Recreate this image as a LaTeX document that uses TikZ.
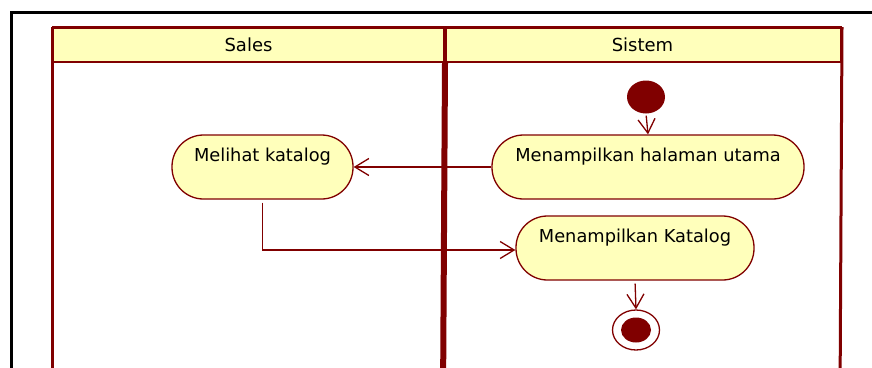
\documentclass[tikz,border=0pt]{standalone}
\usepackage{fontspec}
\setmainfont{DejaVu Sans}
\usetikzlibrary{arrows.meta,shapes.geometric}
\definecolor{umlred}{HTML}{800000}
\definecolor{umlfill}{HTML}{FFFFBB}
\tikzset{
  lanehead/.style={draw=umlred, line width=2pt, fill=umlfill, minimum height=34pt, inner sep=0pt, font=\fontsize{18}{21}\selectfont},
  action/.style={draw=umlred, line width=1.3pt, fill=umlfill, rounded corners=31.5pt, inner xsep=0pt, inner ysep=0pt, text height=26pt, text depth=38pt, font=\fontsize{17.8}{21}\selectfont},
  flow/.style={draw=umlred, line width=1.3pt, -{Straight Barb[length=14pt,width=17pt,line width=1.3pt]}},
}
\begin{document}
\begin{tikzpicture}[x=1pt,y=-1pt]
\useasboundingbox (0,0) rectangle (872,367);
\begin{scope}
\clip (0,0) rectangle (872,367);
% outer black frame
\draw[line width=3pt, black] (11.5,12.5) rectangle (900,400);
% lanes
\node[lanehead, minimum width=391pt, anchor=north west] (hs) at (52,27) {Sales};
\node[lanehead, minimum width=397pt, anchor=north west] (hsi) at (443,27) {Sistem};
\draw[umlred, line width=3pt] (hs.north west) -- (52,400);
\draw[umlred, line width=3pt] (hsi.north east) -- (840,400);
\draw[umlred, line width=6pt] (hs.south east) -- (443,400);
\draw[umlred, line width=3pt] (hs.north west) -- (hsi.north east);
\draw[umlred, line width=3pt] (hs.north east) -- (hs.south east);
% nodes
\node[fill=umlred, ellipse, minimum width=38pt, minimum height=33pt, inner sep=0pt] (start) at (646,97) {};
\node[action, minimum width=312pt] (hu) at (648,167) {Menampilkan halaman utama};
\node[action, minimum width=181pt] (mk) at (262.5,167) {Melihat katalog};
\node[action, minimum width=238pt] (mkat) at (635,248) {Menampilkan Katalog};
\node[draw=umlred, line width=1.3pt, ellipse, minimum width=47pt, minimum height=40pt, inner sep=0pt] (endo) at (636,330) {};
\node[fill=umlred, ellipse, minimum width=30pt, minimum height=25pt, inner sep=0pt] (endi) at (endo.center) {};
% flows
\draw[flow, shorten <=2pt] (start.south) -- (hu.north);
\draw[flow] (hu.west) -- (mk.east);
\draw[flow, shorten <=3pt] (mk.south) |- ([yshift=-2pt]mkat.west);
\draw[flow, shorten <=3pt] (mkat.south) -- (endo.north);
\end{scope}
\end{tikzpicture}
\end{document}
